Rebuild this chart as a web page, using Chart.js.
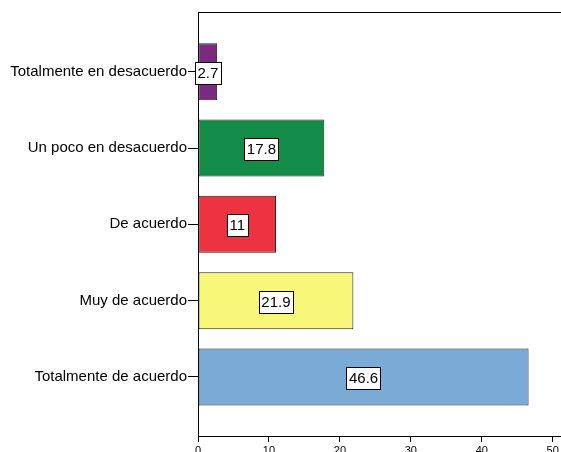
<!DOCTYPE html>
<html>
<head>
<meta charset="utf-8">
<script src="https://cdn.jsdelivr.net/npm/chart.js@4/dist/chart.umd.min.js"></script>
<style>
  body { margin: 0; background: #fff; }
  #grafico { display: block; }
</style>
</head>
<body>
<canvas id="grafico" width="561" height="452"></canvas>
<script>
// Datos del gráfico
const categorias = ['Totalmente en desacuerdo', 'Un poco en desacuerdo', 'De acuerdo', 'Muy de acuerdo', 'Totalmente de acuerdo'];
const porcentajes = [2.7, 17.8, 11, 21.9, 46.6];
const ticksX = [0, 10, 20, 30, 40, 50];

const colores = ['#7b2a82', '#128c46', '#ee3340', '#f8f77a', '#7aaad6'];

// Etiquetas con caja blanca en el centro de cada barra
const etiquetasBarras = {
  id: 'etiquetasBarras',
  afterDatasetsDraw(chart) {
    const ctx = chart.ctx;
    const meta = chart.getDatasetMeta(0);
    ctx.save();
    ctx.font = '15px "Liberation Sans", Arial, sans-serif';
    ctx.textAlign = 'center';
    ctx.textBaseline = 'middle';
    meta.data.forEach((bar, i) => {
      const texto = String(porcentajes[i]);
      const cx = (bar.base + bar.x) / 2;
      const cy = bar.y + 1;
      const w = ctx.measureText(texto).width + 5;
      const h = 22;
      const x0 = Math.round(cx - w / 2) + 0.5;
      const y0 = Math.round(cy - h / 2) + 0.5;
      ctx.fillStyle = '#fff';
      ctx.fillRect(x0, y0, Math.round(w), h);
      ctx.strokeStyle = '#000';
      ctx.lineWidth = 1;
      ctx.strokeRect(x0, y0, Math.round(w), h);
      ctx.fillStyle = '#000';
      ctx.fillText(texto, cx, cy + 1);
    });
    ctx.restore();
  }
};

// Línea superior del marco
const marcoSuperior = {
  id: 'marcoSuperior',
  afterDraw(chart) {
    const ctx = chart.ctx;
    const a = chart.chartArea;
    ctx.save();
    ctx.strokeStyle = '#000';
    ctx.lineWidth = 1;
    ctx.beginPath();
    ctx.moveTo(a.left, a.top + 0.5);
    ctx.lineTo(chart.width, a.top + 0.5);
    ctx.stroke();
    ctx.restore();
  }
};

new Chart(document.getElementById('grafico').getContext('2d'), {
  type: 'bar',
  data: {
    datasets: [{
      data: porcentajes.map((v, i) => ({ x: v, y: i })),
      backgroundColor: colores,
      borderColor: '#222',
      borderWidth: 1,
      borderSkipped: false,
      barPercentage: 0.747,
      categoryPercentage: 1
    }]
  },
  options: {
    indexAxis: 'y',
    responsive: false,
    animation: false,
    layout: { padding: { top: 12, left: 0, right: 0, bottom: 0 } },
    plugins: {
      legend: { display: false },
      tooltip: { enabled: false }
    },
    scales: {
      x: {
        type: 'linear',
        min: 0,
        max: 51.17,
        afterBuildTicks: scale => { scale.ticks = ticksX.map(v => ({ value: v })); },
        afterFit: scale => { scale.height = 16; },
        grid: { drawOnChartArea: false, drawTicks: true, tickLength: 6, tickColor: '#000' },
        border: { display: true, color: '#000', width: 1 },
        ticks: {
          color: '#000',
          padding: 2,
          maxRotation: 0,
          font: { family: '"Liberation Sans", Arial, sans-serif', size: 11 }
        }
      },
      y: {
        type: 'linear',
        reverse: true,
        offset: false,
        min: -0.782,
        max: 4.773,
        afterBuildTicks: scale => { scale.ticks = categorias.map((c, i) => ({ value: i })); },
        afterFit: scale => { scale.width = 198; },
        grid: { offset: false, drawOnChartArea: false, drawTicks: true, tickLength: 10, tickColor: '#000' },
        border: { display: true, color: '#000', width: 1 },
        ticks: {
          color: '#000',
          padding: 1,
          callback: v => categorias[v],
          font: { family: '"Liberation Sans", Arial, sans-serif', size: 15 }
        }
      }
    }
  },
  plugins: [etiquetasBarras, marcoSuperior]
});
</script>
</body>
</html>
